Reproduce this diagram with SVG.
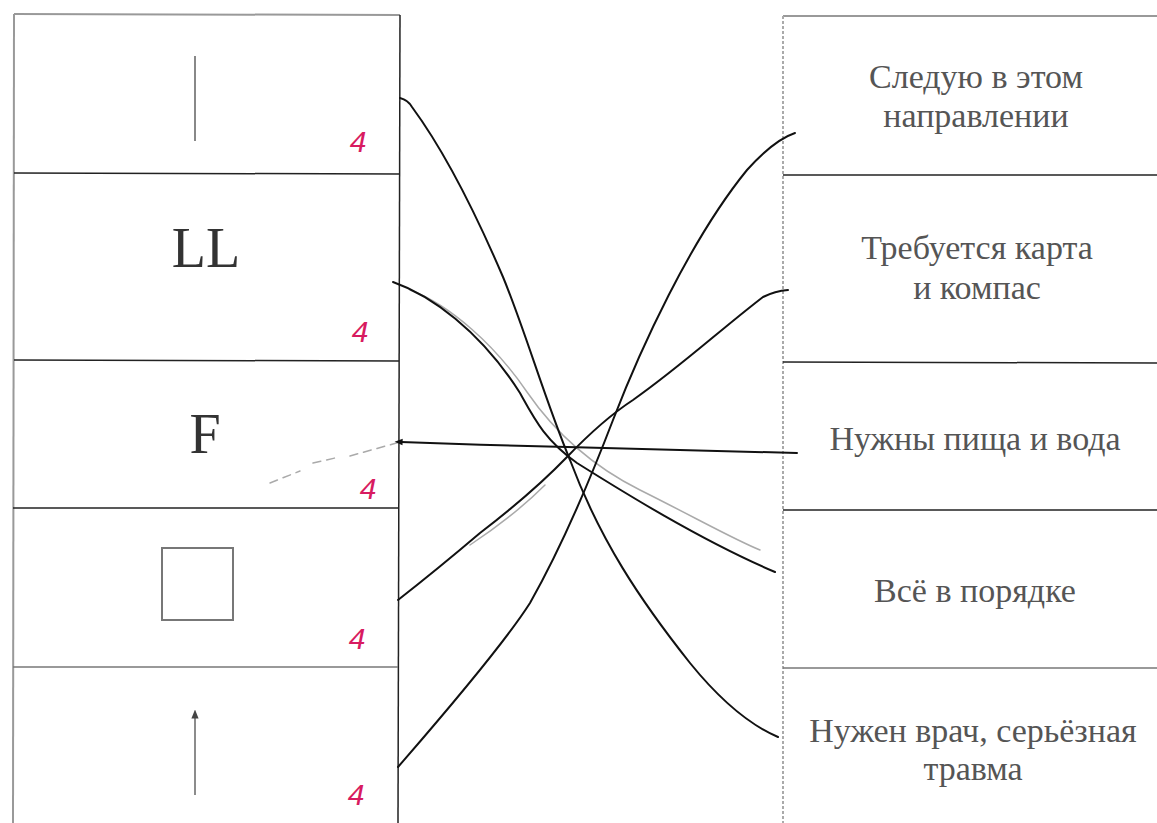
<svg xmlns="http://www.w3.org/2000/svg" width="1157" height="823" viewBox="0 0 1157 823">
<defs>
<style>
.frame{stroke:#222;stroke-width:1.5;fill:none}
.gframe{stroke:#999;stroke-width:2;fill:none}
.dframe{stroke:#aaa;stroke-width:2;fill:none;stroke-dasharray:3 2}
.sym{font-family:"Liberation Serif",serif;font-size:56px;fill:#333;text-anchor:middle}
.lbl{font-family:"Liberation Serif","DejaVu Serif",serif;font-size:34px;fill:#555;text-anchor:middle}
.mark{font-family:"Liberation Sans",sans-serif;font-style:italic;font-size:30px;fill:#d81b60;text-anchor:middle}
.wire{stroke:#111;stroke-width:2;fill:none;stroke-linecap:round}
.pencil{stroke:#aaa;stroke-width:1.5;fill:none;stroke-linecap:round}
</style>
<marker id="ah" viewBox="0 0 10 10" refX="2" refY="5" markerWidth="5" markerHeight="4" orient="auto-start-reverse">
<path d="M0,1 L10,5 L0,9 z" fill="#111"/>
</marker>
<marker id="ahg" viewBox="0 0 10 10" refX="5" refY="5" markerWidth="6" markerHeight="8" orient="auto">
<path d="M0,1 L10,5 L0,9 z" fill="#444"/>
</marker>
</defs>
<rect width="1157" height="823" fill="#fff"/>

<g id="left-column-frame">
<line class="gframe" x1="14" y1="14" x2="400" y2="15"/>
<line class="gframe" x1="14" y1="14" x2="13" y2="823"/>
<line class="frame" x1="400" y1="15" x2="398" y2="823"/>
</g>

<g id="left1">
<line class="frame" x1="14" y1="173" x2="400" y2="174"/>
<line x1="195" y1="56" x2="195" y2="141" stroke="#888" stroke-width="2"/>
<text class="mark" x="358" y="152">4</text>
</g>
<g id="left2">
<line class="frame" x1="14" y1="360" x2="399" y2="361"/>
<text class="sym" x="206" y="267">LL</text>
<text class="mark" x="360" y="342">4</text>
</g>
<g id="left3">
<line class="frame" x1="13" y1="508" x2="398" y2="508"/>
<text class="sym" x="205" y="453">F</text>
<text class="mark" x="368" y="499">4</text>
</g>
<g id="left4">
<line x1="13" y1="667" x2="398" y2="667" stroke="#777" stroke-width="1.5"/>
<rect x="162" y="548" width="71" height="72" fill="none" stroke="#777" stroke-width="2"/>
<text class="mark" x="357" y="649">4</text>
</g>
<g id="left5">
<line x1="195" y1="795" x2="195" y2="714" stroke="#666" stroke-width="1.5" marker-end="url(#ahg)"/>
<text class="mark" x="356" y="805">4</text>
</g>

<g id="right-column-frame">
<line class="gframe" x1="783" y1="16" x2="1157" y2="16"/>
<line class="dframe" x1="783" y1="16" x2="783" y2="823"/>
</g>
<g id="right1">
<line class="frame" x1="783" y1="175" x2="1157" y2="175"/>
<text class="lbl" x="976" y="88">Следую в этом</text>
<text class="lbl" x="976" y="127">направлении</text>
</g>
<g id="right2">
<line class="frame" x1="783" y1="362" x2="1157" y2="363"/>
<text class="lbl" x="977" y="259">Требуется карта</text>
<text class="lbl" x="977" y="299">и компас</text>
</g>
<g id="right3">
<line class="frame" x1="783" y1="510" x2="1157" y2="510"/>
<text class="lbl" x="975" y="450">Нужны пища и вода</text>
</g>
<g id="right4">
<line x1="783" y1="668" x2="1157" y2="668" stroke="#777" stroke-width="1.5"/>
<text class="lbl" x="975" y="602">Всё в порядке</text>
</g>
<g id="right5">
<text class="lbl" x="973" y="742">Нужен врач, серьёзная</text>
<text class="lbl" x="973" y="780">травма</text>
</g>

<g id="connectors">
<path class="pencil" d="M270,483 L300,471 M313,463 L335,458 M350,456 L400,442" stroke-dasharray="8 6"/>
<path class="pencil" d="M410,290 C450,305 495,345 527,392 C560,440 600,470 640,490 C700,520 735,540 760,550"/>
<path class="pencil" d="M470,545 C500,525 525,505 545,485"/>
<path class="wire" stroke-width="2.5" d="M400,98 Q408,100 412,107 C440,145 470,200 503,277 C525,330 545,400 570,460 C600,540 640,600 690,663 C720,700 750,725 778,737"/>
<path class="wire" d="M393,282 C430,295 480,330 520,393 C535,420 545,440 577,463 C620,490 700,540 775,572"/>
<path class="wire" stroke-width="1.5" d="M401,442 C450,444 520,446 567,447 C650,449 730,451 797,453" marker-start="url(#ah)"/>
<path class="wire" stroke-width="2.5" d="M398,600 C430,575 460,550 480,533 C510,510 540,485 567,457 C590,433 610,415 633,400 C680,367 720,330 763,297 Q775,291 788,290"/>
<path class="wire" stroke-width="1.5" d="M398,767 C430,730 500,650 530,603 C560,550 590,480 613,420 C640,350 690,240 747,170 C765,150 780,138 795,133"/>
</g>
</svg>
